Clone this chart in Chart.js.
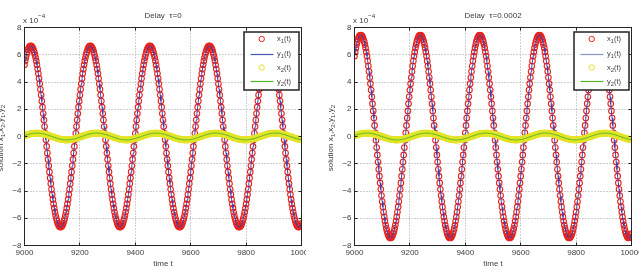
<!DOCTYPE html>
<html><head><meta charset="utf-8">
<script src="https://cdn.jsdelivr.net/npm/chart.js@4.4.0/dist/chart.umd.min.js"></script>
<style>
html,body{margin:0;padding:0;background:#fff;width:639px;height:272px;overflow:hidden}
#c1{position:absolute;left:0;top:0;width:306px;height:272px}
#c2{position:absolute;left:320px;top:0;width:319px;height:272px}
</style></head><body>
<canvas id="c1" width="306" height="272"></canvas>
<canvas id="c2" width="319" height="272"></canvas>
<script>
// sampling grid of the solver output (time t)
const sampleStart = 9000;
const sampleStep = 2.5;
const xTicks = [9000, 9200, 9400, 9600, 9800, 10000];
const yTicks = [-8, -6, -4, -2, 0, 2, 4, 6, 8];
const titles = ['Delay  \u03c4=0', 'Delay  \u03c4=0.0002'];
const legendNames = [['x', '1'], ['y', '1'], ['x', '2'], ['y', '2']];

// values in units of 1e-4
const x1Tau0 = [
5.26,5.55,5.80,6.02,6.21,6.37,6.49,6.58,6.63,
6.65,6.63,6.58,6.49,6.37,6.21,6.02,5.80,5.55,5.26,4.95,4.62,4.25,3.87,3.46,3.04,2.60,2.15,1.68,1.21,0.73,0.24,-0.24,-0.73,-1.21,-1.68,-2.15,-2.60,-3.04,-3.46,-3.87,-4.25,-4.62,-4.95,-5.26,-5.55,-5.80,-6.02,-6.21,-6.37,-6.49,-6.58,-6.63,-6.65,-6.63,-6.58,-6.49,-6.37,-6.21,-6.02,-5.80,-5.55,-5.26,-4.95,-4.62,-4.25,-3.87,-3.46,-3.04,-2.60,-2.15,-1.68,-1.21,-0.73,-0.24,0.24,0.73,1.21,1.68,2.15,2.60,3.04,3.46,3.87,4.25,4.62,4.95,5.26,5.55,5.80,6.02,6.21,6.37,6.49,6.58,6.63,
6.65,6.63,6.58,6.49,6.37,6.21,6.02,5.80,5.55,5.26,4.95,4.62,4.25,3.87,3.46,3.04,2.60,2.15,1.68,1.21,0.73,0.24,-0.24,-0.73,-1.21,-1.68,-2.15,-2.60,-3.04,-3.46,-3.87,-4.25,-4.62,-4.95,-5.26,-5.55,-5.80,-6.02,-6.21,-6.37,-6.49,-6.58,-6.63,-6.65,-6.63,-6.58,-6.49,-6.37,-6.21,-6.02,-5.80,-5.55,-5.26,-4.95,-4.62,-4.25,-3.87,-3.46,-3.04,-2.60,-2.15,-1.68,-1.21,-0.73,-0.24,0.24,0.73,1.21,1.68,2.15,2.60,3.04,3.46,3.87,4.25,4.62,4.95,5.26,5.55,5.80,6.02,6.21,6.37,6.49,6.58,6.63,
6.65,6.63,6.58,6.49,6.37,6.21,6.02,5.80,5.55,5.26,4.95,4.62,4.25,3.87,3.46,3.04,2.60,2.15,1.68,1.21,0.73,0.24,-0.24,-0.73,-1.21,-1.68,-2.15,-2.60,-3.04,-3.46,-3.87,-4.25,-4.62,-4.95,-5.26,-5.55,-5.80,-6.02,-6.21,-6.37,-6.49,-6.58,-6.63,-6.65,-6.63,-6.58,-6.49,-6.37,-6.21,-6.02,-5.80,-5.55,-5.26,-4.95,-4.62,-4.25,-3.87,-3.46,-3.04,-2.60,-2.15,-1.68,-1.21,-0.73,-0.24,0.24,0.73,1.21,1.68,2.15,2.60,3.04,3.46,3.87,4.25,4.62,4.95,5.26,5.55,5.80,6.02,6.21,6.37,6.49,6.58,6.63,
6.65,6.63,6.58,6.49,6.37,6.21,6.02,5.80,5.55,5.26,4.95,4.62,4.25,3.87,3.46,3.04,2.60,2.15,1.68,1.21,0.73,0.24,-0.24,-0.73,-1.21,-1.68,-2.15,-2.60,-3.04,-3.46,-3.87,-4.25,-4.62,-4.95,-5.26,-5.55,-5.80,-6.02,-6.21,-6.37,-6.49,-6.58,-6.63,-6.65,-6.63,-6.58,-6.49,-6.37,-6.21,-6.02,-5.80,-5.55,-5.26,-4.95,-4.62,-4.25,-3.87,-3.46,-3.04,-2.60,-2.15,-1.68,-1.21,-0.73,-0.24,0.24,0.73,1.21,1.68,2.15,2.60,3.04,3.46,3.87,4.25,4.62,4.95,5.26,5.55,5.80,6.02,6.21,6.37,6.49,6.58,6.63,
6.65,6.63,6.58,6.49,6.37,6.21,6.02,5.80,5.55,5.26,4.95,4.62,4.25,3.87,3.46,3.04,2.60,2.15,1.68,1.21,0.73,0.24,-0.24,-0.73,-1.21,-1.68,-2.15,-2.60,-3.04,-3.46,-3.87,-4.25,-4.62,-4.95,-5.26,-5.55,-5.80,-6.02,-6.21,-6.37,-6.49,-6.58,-6.63,-6.65,-6.63,-6.58,-6.49,-6.37
];

const x1Tau2 = [
5.90,6.21,6.50,6.75,6.96,7.13,7.27,7.37,7.43,
7.45,7.43,7.37,7.27,7.13,6.96,6.75,6.50,6.21,5.90,5.55,5.17,4.77,4.33,3.88,3.41,2.91,2.41,1.88,1.35,0.81,0.27,-0.27,-0.81,-1.35,-1.88,-2.41,-2.91,-3.41,-3.88,-4.33,-4.77,-5.17,-5.55,-5.90,-6.21,-6.50,-6.75,-6.96,-7.13,-7.27,-7.37,-7.43,-7.45,-7.43,-7.37,-7.27,-7.13,-6.96,-6.75,-6.50,-6.21,-5.90,-5.55,-5.17,-4.77,-4.33,-3.88,-3.41,-2.91,-2.41,-1.88,-1.35,-0.81,-0.27,0.27,0.81,1.35,1.88,2.41,2.91,3.41,3.88,4.33,4.77,5.17,5.55,5.90,6.21,6.50,6.75,6.96,7.13,7.27,7.37,7.43,
7.45,7.43,7.37,7.27,7.13,6.96,6.75,6.50,6.21,5.90,5.55,5.17,4.77,4.33,3.88,3.41,2.91,2.41,1.88,1.35,0.81,0.27,-0.27,-0.81,-1.35,-1.88,-2.41,-2.91,-3.41,-3.88,-4.33,-4.77,-5.17,-5.55,-5.90,-6.21,-6.50,-6.75,-6.96,-7.13,-7.27,-7.37,-7.43,-7.45,-7.43,-7.37,-7.27,-7.13,-6.96,-6.75,-6.50,-6.21,-5.90,-5.55,-5.17,-4.77,-4.33,-3.88,-3.41,-2.91,-2.41,-1.88,-1.35,-0.81,-0.27,0.27,0.81,1.35,1.88,2.41,2.91,3.41,3.88,4.33,4.77,5.17,5.55,5.90,6.21,6.50,6.75,6.96,7.13,7.27,7.37,7.43,
7.45,7.43,7.37,7.27,7.13,6.96,6.75,6.50,6.21,5.90,5.55,5.17,4.77,4.33,3.88,3.41,2.91,2.41,1.88,1.35,0.81,0.27,-0.27,-0.81,-1.35,-1.88,-2.41,-2.91,-3.41,-3.88,-4.33,-4.77,-5.17,-5.55,-5.90,-6.21,-6.50,-6.75,-6.96,-7.13,-7.27,-7.37,-7.43,-7.45,-7.43,-7.37,-7.27,-7.13,-6.96,-6.75,-6.50,-6.21,-5.90,-5.55,-5.17,-4.77,-4.33,-3.88,-3.41,-2.91,-2.41,-1.88,-1.35,-0.81,-0.27,0.27,0.81,1.35,1.88,2.41,2.91,3.41,3.88,4.33,4.77,5.17,5.55,5.90,6.21,6.50,6.75,6.96,7.13,7.27,7.37,7.43,
7.45,7.43,7.37,7.27,7.13,6.96,6.75,6.50,6.21,5.90,5.55,5.17,4.77,4.33,3.88,3.41,2.91,2.41,1.88,1.35,0.81,0.27,-0.27,-0.81,-1.35,-1.88,-2.41,-2.91,-3.41,-3.88,-4.33,-4.77,-5.17,-5.55,-5.90,-6.21,-6.50,-6.75,-6.96,-7.13,-7.27,-7.37,-7.43,-7.45,-7.43,-7.37,-7.27,-7.13,-6.96,-6.75,-6.50,-6.21,-5.90,-5.55,-5.17,-4.77,-4.33,-3.88,-3.41,-2.91,-2.41,-1.88,-1.35,-0.81,-0.27,0.27,0.81,1.35,1.88,2.41,2.91,3.41,3.88,4.33,4.77,5.17,5.55,5.90,6.21,6.50,6.75,6.96,7.13,7.27,7.37,7.43,
7.45,7.43,7.37,7.27,7.13,6.96,6.75,6.50,6.21,5.90,5.55,5.17,4.77,4.33,3.88,3.41,2.91,2.41,1.88,1.35,0.81,0.27,-0.27,-0.81,-1.35,-1.88,-2.41,-2.91,-3.41,-3.88,-4.33,-4.77,-5.17,-5.55,-5.90,-6.21,-6.50,-6.75,-6.96,-7.13,-7.27,-7.37,-7.43,-7.45,-7.43,-7.37,-7.27,-7.13
];

const x2Both = [
0.063,0.081,0.098,0.114,0.130,0.145,0.160,0.174,0.186,0.198,0.209,0.218,0.226,0.234,0.239,0.244,0.247,0.249,
0.250,0.249,0.247,0.244,0.239,0.234,0.226,0.218,0.209,0.198,0.186,0.174,0.160,0.145,0.130,0.114,0.098,0.081,0.063,0.045,0.027,0.009,-0.009,-0.027,-0.045,-0.063,-0.081,-0.098,-0.114,-0.130,-0.145,-0.160,-0.174,-0.186,-0.198,-0.209,-0.218,-0.226,-0.234,-0.239,-0.244,-0.247,-0.249,-0.250,-0.249,-0.247,-0.244,-0.239,-0.234,-0.226,-0.218,-0.209,-0.198,-0.186,-0.174,-0.160,-0.145,-0.130,-0.114,-0.098,-0.081,-0.063,-0.045,-0.027,-0.009,0.009,0.027,0.045,0.063,0.081,0.098,0.114,0.130,0.145,0.160,0.174,0.186,0.198,0.209,0.218,0.226,0.234,0.239,0.244,0.247,0.249,
0.250,0.249,0.247,0.244,0.239,0.234,0.226,0.218,0.209,0.198,0.186,0.174,0.160,0.145,0.130,0.114,0.098,0.081,0.063,0.045,0.027,0.009,-0.009,-0.027,-0.045,-0.063,-0.081,-0.098,-0.114,-0.130,-0.145,-0.160,-0.174,-0.186,-0.198,-0.209,-0.218,-0.226,-0.234,-0.239,-0.244,-0.247,-0.249,-0.250,-0.249,-0.247,-0.244,-0.239,-0.234,-0.226,-0.218,-0.209,-0.198,-0.186,-0.174,-0.160,-0.145,-0.130,-0.114,-0.098,-0.081,-0.063,-0.045,-0.027,-0.009,0.009,0.027,0.045,0.063,0.081,0.098,0.114,0.130,0.145,0.160,0.174,0.186,0.198,0.209,0.218,0.226,0.234,0.239,0.244,0.247,0.249,
0.250,0.249,0.247,0.244,0.239,0.234,0.226,0.218,0.209,0.198,0.186,0.174,0.160,0.145,0.130,0.114,0.098,0.081,0.063,0.045,0.027,0.009,-0.009,-0.027,-0.045,-0.063,-0.081,-0.098,-0.114,-0.130,-0.145,-0.160,-0.174,-0.186,-0.198,-0.209,-0.218,-0.226,-0.234,-0.239,-0.244,-0.247,-0.249,-0.250,-0.249,-0.247,-0.244,-0.239,-0.234,-0.226,-0.218,-0.209,-0.198,-0.186,-0.174,-0.160,-0.145,-0.130,-0.114,-0.098,-0.081,-0.063,-0.045,-0.027,-0.009,0.009,0.027,0.045,0.063,0.081,0.098,0.114,0.130,0.145,0.160,0.174,0.186,0.198,0.209,0.218,0.226,0.234,0.239,0.244,0.247,0.249,
0.250,0.249,0.247,0.244,0.239,0.234,0.226,0.218,0.209,0.198,0.186,0.174,0.160,0.145,0.130,0.114,0.098,0.081,0.063,0.045,0.027,0.009,-0.009,-0.027,-0.045,-0.063,-0.081,-0.098,-0.114,-0.130,-0.145,-0.160,-0.174,-0.186,-0.198,-0.209,-0.218,-0.226,-0.234,-0.239,-0.244,-0.247,-0.249,-0.250,-0.249,-0.247,-0.244,-0.239,-0.234,-0.226,-0.218,-0.209,-0.198,-0.186,-0.174,-0.160,-0.145,-0.130,-0.114,-0.098,-0.081,-0.063,-0.045,-0.027,-0.009,0.009,0.027,0.045,0.063,0.081,0.098,0.114,0.130,0.145,0.160,0.174,0.186,0.198,0.209,0.218,0.226,0.234,0.239,0.244,0.247,0.249,
0.250,0.249,0.247,0.244,0.239,0.234,0.226,0.218,0.209,0.198,0.186,0.174,0.160,0.145,0.130,0.114,0.098,0.081,0.063,0.045,0.027,0.009,-0.009,-0.027,-0.045,-0.063,-0.081,-0.098,-0.114,-0.130,-0.145,-0.160,-0.174,-0.186,-0.198,-0.209,-0.218,-0.226,-0.234
];

const FONT = "'Liberation Sans', Arial, sans-serif";
const TXT = '#3c3c3c';
const RED = '#e8231c';
const BLUE = '#3a40b0';
const YEL = '#e4e428';
const GRN = '#4cb82a';
const GRID = '#a0a0a0';
const AXIS = '#262626';

function pts(arr) { return arr.map((v, i) => ({ x: sampleStart + i * sampleStep, y: v })); }

function rich(ctx, parts, x, y, align, size) {
  const fontFor = p => `${p[1] ? size * 0.78 : size}px ${FONT}`;
  let w = 0;
  parts.forEach(p => { ctx.font = fontFor(p); w += ctx.measureText(p[0]).width; });
  let cx = align === 'center' ? x - w / 2 : x;
  ctx.textAlign = 'left'; ctx.textBaseline = 'middle';
  parts.forEach(p => {
    ctx.font = fontFor(p);
    const dy = p[1] === 'sub' ? size * 0.32 : p[1] === 'sup' ? -size * 0.5 : 0;
    ctx.fillText(p[0], cx, y + dy);
    cx += ctx.measureText(p[0]).width;
  });
}

function decor(title, g) {
  return {
    id: 'decor',
    beforeDatasetsDraw(chart) {
      const { ctx, chartArea: a, scales: { x, y } } = chart;
      ctx.save();
      ctx.strokeStyle = GRID; ctx.lineWidth = 1; ctx.setLineDash([1, 2]);
      ctx.beginPath();
      xTicks.slice(1, -1).forEach(v => { const p = Math.floor(x.getPixelForValue(v)) + 0.5; ctx.moveTo(p, a.top); ctx.lineTo(p, a.bottom); });
      yTicks.slice(1, -1).forEach(v => { const p = Math.floor(y.getPixelForValue(v)) + 0.5; ctx.moveTo(a.left, p); ctx.lineTo(a.right, p); });
      ctx.stroke();
      ctx.restore();
    },
    afterDatasetsDraw(chart) {
      const { ctx, chartArea: a, scales: { x, y } } = chart;
      ctx.save();
      ctx.strokeStyle = AXIS; ctx.lineWidth = 1;
      ctx.strokeRect(a.left, a.top, a.right - a.left, a.bottom - a.top);
      ctx.beginPath();
      xTicks.forEach(v => { const p = Math.floor(x.getPixelForValue(v)) + 0.5; ctx.moveTo(p, a.bottom); ctx.lineTo(p, a.bottom - 3); ctx.moveTo(p, a.top); ctx.lineTo(p, a.top + 3); });
      yTicks.forEach(v => { const p = Math.floor(y.getPixelForValue(v)) + 0.5; ctx.moveTo(a.left, p); ctx.lineTo(a.left + 3, p); ctx.moveTo(a.right, p); ctx.lineTo(a.right - 3, p); });
      ctx.stroke();
      // legend box
      const lx = Math.round(a.right - 57.5), ly = 32, lw = 55, lh = 58;
      ctx.fillStyle = '#fff'; ctx.fillRect(lx, ly, lw, lh);
      ctx.lineWidth = 1.5; ctx.strokeStyle = '#222';
      ctx.strokeRect(lx, ly, lw, lh);
      const rows = [7, 22, 35.5, 49.5];
      const styles = [['pt', RED], ['ln', g.legendBlue], ['pt', YEL], ['ln', GRN]];
      rows.forEach((ry, i) => {
        const yy = ly + ry;
        const [kind, col] = styles[i];
        if (kind === 'pt') {
          ctx.lineWidth = 1; ctx.strokeStyle = col;
          ctx.beginPath(); ctx.arc(lx + 17.7, yy, 2.7, 0, Math.PI * 2); ctx.stroke();
        } else {
          ctx.lineWidth = 1.2; ctx.strokeStyle = col;
          ctx.beginPath(); ctx.moveTo(lx + 6.5, Math.floor(yy) + 0.5); ctx.lineTo(lx + 29.5, Math.floor(yy) + 0.5); ctx.stroke();
        }
        ctx.fillStyle = TXT;
        rich(ctx, [[legendNames[i][0]], [legendNames[i][1], 'sub'], ['(t)']], lx + 33, yy, 'left', 7.5);
      });
      ctx.restore();
    },
    afterDraw(chart) {
      const { ctx, chartArea: a } = chart;
      ctx.save();
      ctx.fillStyle = TXT;
      const cx = (a.left + a.right) / 2;
      rich(ctx, [[title]], cx, 16, 'center', 8);
      rich(ctx, [['x 10'], ['\u22124', 'sup']], a.left - 1.5, 20.5, 'left', 8);
      rich(ctx, [['time t']], cx, 263.5, 'center', 8);
      ctx.translate(g.ylabX, 138);
      ctx.rotate(-Math.PI / 2);
      rich(ctx, [['solution x'], ['1', 'sub'], [',x'], ['2', 'sub'], [',y'], ['1', 'sub'], [',y'], ['2', 'sub']], 0, 0, 'center', 8);
      ctx.restore();
    }
  };
}

function makeChart(id, title, x1, x2, g) {
  return new Chart(document.getElementById(id), {
    type: 'line',
    data: {
      datasets: [
        { label: 'x1(t)', data: pts(x1), showLine: false, pointStyle: 'circle', pointRadius: 2.8, pointBorderWidth: 1.1, pointBorderColor: RED, pointBackgroundColor: 'rgba(0,0,0,0)', borderColor: RED, order: 4 },
        { label: 'y1(t)', data: pts(x1), borderColor: BLUE, borderWidth: 1, pointRadius: 0, order: 3 },
        { label: 'x2(t)', data: pts(x2), showLine: false, pointStyle: 'circle', pointRadius: 2.8, pointBorderWidth: 1.1, pointBorderColor: YEL, pointBackgroundColor: 'rgba(0,0,0,0)', borderColor: YEL, order: 2 },
        { label: 'y2(t)', data: pts(x2), borderColor: GRN, borderWidth: 1, pointRadius: 0, order: 1 }
      ]
    },
    options: {
      responsive: false, animation: false, events: [],
      layout: { autoPadding: false, padding: { left: 0, right: g.padRight, top: 27.5, bottom: 0 } },
      plugins: { legend: { display: false }, tooltip: { enabled: false }, title: { display: false } },
      scales: {
        x: {
          type: 'linear', min: 9000, max: 10000,
          afterBuildTicks: s => { s.ticks = xTicks.map(v => ({ value: v })); },
          ticks: { autoSkip: false, maxRotation: 0, padding: 2, font: { family: FONT, size: 8 }, color: TXT, callback: v => String(v) },
          grid: { display: false, drawTicks: false }, border: { display: false },
          afterFit: s => { s.height = 26.5; s.paddingLeft = 0; s.paddingRight = 0; }
        },
        y: {
          type: 'linear', min: -8, max: 8,
          afterBuildTicks: s => { s.ticks = yTicks.map(v => ({ value: v })); },
          ticks: { padding: 3, font: { family: FONT, size: 8 }, color: TXT, callback: v => v < 0 ? '\u2212' + (-v) : String(v) },
          grid: { display: false, drawTicks: false }, border: { display: false },
          afterFit: s => { s.width = g.yw; s.paddingTop = 0; s.paddingBottom = 0; }
        }
      }
    },
    plugins: [decor(title, g)]
  });
}

makeChart('c1', titles[0], x1Tau0, x2Both, { yw: 24.5, padRight: 4.5, ylabX: 0.5, legendBlue: '#4656b4' });
makeChart('c2', titles[1], x1Tau2, x2Both, { yw: 34.5, padRight: 7.5, ylabX: 11, legendBlue: '#8494c4' });
</script>
</body></html>
